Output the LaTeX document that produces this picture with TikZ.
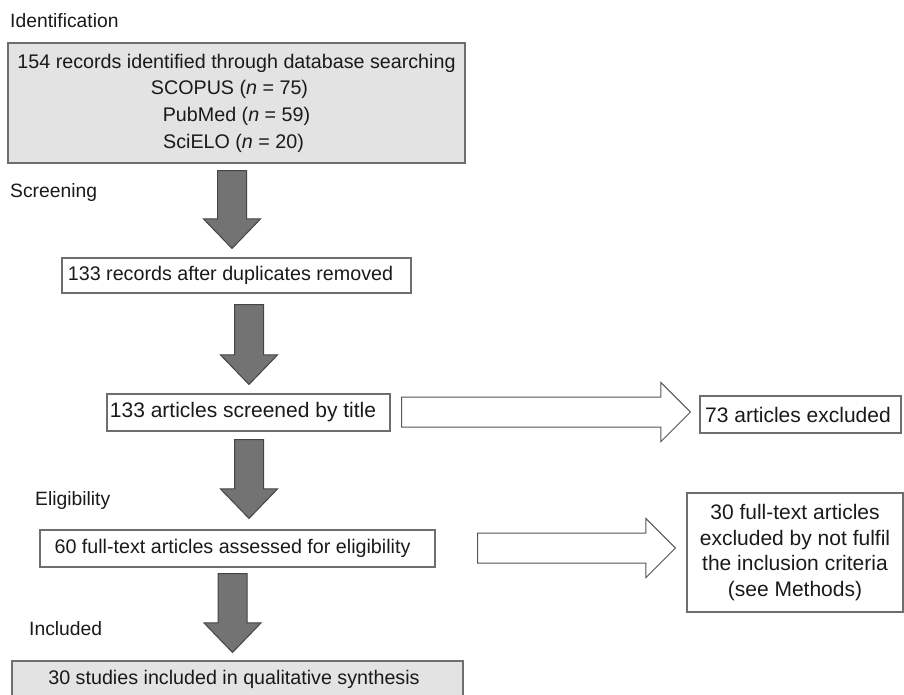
\documentclass[tikz,border=0pt]{standalone}
\usepackage{fontspec}
\setmainfont{Liberation Sans}
\usetikzlibrary{calc}
\definecolor{txt}{HTML}{1A1A1A}
\definecolor{bord}{HTML}{6E6E6E}
\definecolor{lightfill}{HTML}{E3E3E3}
\definecolor{darkfill}{HTML}{737373}
\definecolor{darkbord}{HTML}{444444}
\definecolor{hollowbord}{HTML}{555555}
\newcommand{\dblock}[2]{\draw[garrow] let \p1=#1, \p2=#2 in
  (\x1-14.5pt,\y1) -- (\x1-14.5pt,\y2+29.5pt) -- (\x1-28.5pt,\y2+29.5pt) -- (\x1,\y2)
  -- (\x1+28.5pt,\y2+29.5pt) -- (\x1+14.5pt,\y2+29.5pt) -- (\x1+14.5pt,\y1) -- cycle;}
\newcommand{\rblock}[2]{\draw[harrow] let \p1=#1, \p2=#2 in
  (\x1,\y1+15pt) -- (\x2-29.5pt,\y1+15pt) -- (\x2-29.5pt,\y1+29.5pt) -- (\x2,\y1)
  -- (\x2-29.5pt,\y1-29.5pt) -- (\x2-29.5pt,\y1-15pt) -- (\x1,\y1-15pt) -- cycle;}
\begin{document}
\begin{tikzpicture}[x=1pt,y=-1pt,
  box/.style={draw=bord, line width=1.1pt, text=txt, inner sep=0pt, align=center,
    font=\fontsize{19.7}{26}\selectfont},
  bigbox/.style={box, font=\fontsize{21}{25.5}\selectfont},
  stage/.style={anchor=west, inner sep=0pt, text=txt, font=\fontsize{19.3}{23}\selectfont},
  garrow/.style={fill=darkfill, draw=darkbord, line width=1pt, line join=miter},
  harrow/.style={fill=white, draw=hollowbord, line width=1pt, line join=miter}]
\useasboundingbox (0,0) rectangle (904,694);
\clip (0,0) rectangle (904,694);
\fill[white] (0,0) rectangle (904,694);

% stage labels
\node[stage] (lid) at (10,21) {Identification};
\node[stage] (lsc) at (10,193) {Screening};
\node[stage] (lel) at (35,500) {Eligibility};
\node[stage] (lin) at (29,629) {Included};

% boxes
\node[box, fill=lightfill, minimum width=457pt, minimum height=120pt,
  font=\fontsize{19.7}{26.7}\selectfont] (b1) at (236.5,103)
  {154 records identified through database searching\\
   SCOPUS (\textit{n} = 75)\kern14pt\\
   PubMed (\textit{n} = 59)\\
   SciELO (\textit{n} = 20)\kern6pt};
\node[box, minimum width=349pt, minimum height=35pt] (b2) at (236.5,275.5)
  {133 records after duplicates removed\kern12pt};
\node[bigbox, minimum width=283pt, minimum height=37pt] (b3) at (248.5,412.5)
  {133 articles screened by title\kern11pt};
\node[box, minimum width=395pt, minimum height=37pt] (b4) at (237.5,548.5)
  {60 full-text articles assessed for eligibility\kern10pt};
\node[box, fill=lightfill, minimum width=451pt, minimum height=36pt] (b5) at (237.5,679)
  {30 studies included in qualitative synthesis\kern7pt};
\node[bigbox, minimum width=201pt, minimum height=37pt] (ex1) at (800.5,414.5)
  {73 articles excluded\kern5pt};
\node[bigbox, minimum width=216pt, minimum height=119pt] (ex2) at (795,552.5)
  {30 full-text articles\\excluded by not fulfil\\the inclusion criteria\\(see Methods)};

% down arrows
\dblock{($(b1.south)+(-4.5,7)$)}{($(b2.north)+(-4.5,-9)$)}
\dblock{($(b2.south)+(12.5,11)$)}{($(b3.north)+(0.5,-9)$)}
\dblock{($(b3.south)+(0.5,8)$)}{($(b4.north)+(11.5,-11)$)}
\dblock{($(b4.south)+(-5,6)$)}{($(b5.north)+(-5,-8)$)}

% right arrows
\rblock{($(b3.east)+(11,-0.5)$)}{($(ex1.west)+(-9,-2.5)$)}
\rblock{($(b4.east)+(42,-0.5)$)}{($(ex2.west)+(-11,-4.5)$)}
\end{tikzpicture}
\end{document}
